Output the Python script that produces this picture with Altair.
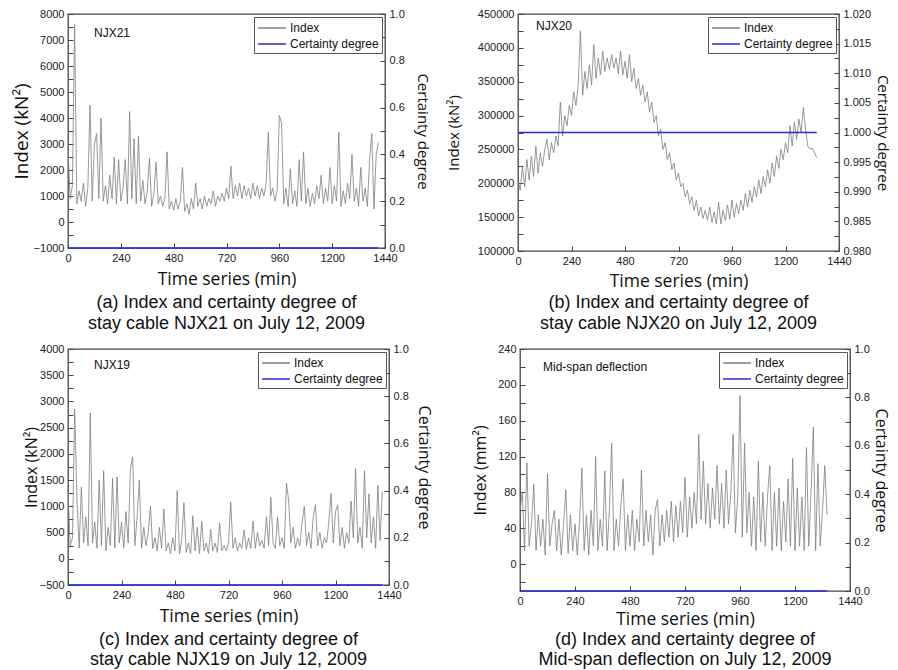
import altair as alt
import pandas as pd

# ---------------- data (10-min sampling) ----------------
STEP = 10

# (a) NJX21 index, t = 0 .. 1410
idx_a = [2800, 900, 1400, 7600, 700, 1200, 800, 1500, 600, 1300,
         4500, 800, 3000, 3400, 900, 4000, 800, 1400, 700, 1800,
         900, 2500, 700, 2400, 800, 1300, 2400, 700, 4250, 900,
         3200, 700, 3300, 800, 1600, 700, 1200, 2450, 600, 1100,
         2300, 700, 1000, 600, 900, 2700, 500, 800, 450, 900,
         500, 800, 2100, 400, 700, 300, 900, 500, 1500, 600,
         900, 500, 1000, 600, 900, 700, 1200, 600, 1000, 800,
         1100, 800, 1300, 900, 2150, 900, 1400, 1000, 1500, 900,
         1400, 1000, 1300, 900, 1500, 1000, 1400, 900, 1300, 1000,
         1500, 3450, 1000, 1300, 800, 1200, 4100, 3800, 700, 1300,
         600, 2050, 700, 1200, 600, 2400, 800, 2700, 700, 1300,
         600, 1100, 700, 1400, 900, 1800, 700, 1300, 800, 2100,
         700, 1400, 800, 3450, 600, 1200, 700, 1500, 900, 2600,
         800, 1300, 600, 2100, 800, 1300, 600, 2400, 3400, 500,
         2600, 3050]
cert_a = [0.0, 0.0]

# (b) NJX20 index, t = 0 .. 1340
idx_b = [205000, 190000, 225000, 195000, 235000, 205000, 240000, 210000, 255000, 215000,
         245000, 225000, 250000, 265000, 235000, 260000, 245000, 270000, 255000, 320000,
         270000, 300000, 285000, 315000, 300000, 335000, 315000, 345000, 425000, 330000,
         365000, 340000, 375000, 345000, 405000, 355000, 385000, 360000, 395000, 365000,
         385000, 368000, 390000, 370000, 385000, 362000, 395000, 360000, 380000, 355000,
         390000, 350000, 370000, 340000, 355000, 330000, 345000, 320000, 335000, 305000,
         320000, 290000, 300000, 270000, 280000, 250000, 260000, 235000, 245000, 220000,
         230000, 205000, 215000, 195000, 200000, 180000, 190000, 170000, 180000, 160000,
         175000, 152000, 165000, 148000, 160000, 145000, 165000, 142000, 158000, 140000,
         172000, 140000, 160000, 145000, 168000, 147000, 175000, 150000, 170000, 155000,
         175000, 160000, 185000, 165000, 190000, 172000, 195000, 180000, 205000, 185000,
         210000, 195000, 220000, 200000, 230000, 210000, 240000, 222000, 250000, 235000,
         260000, 245000, 285000, 255000, 290000, 265000, 295000, 275000, 312000, 280000,
         255000, 250000, 252000, 245000, 238000]
cert_b = [1.0, 1.0]

# (c) NJX19 index, t = 0 .. 1410
idx_c = [1280, 250, 400, 2850, 1150, 200, 1370, 300, 800, 250,
         2780, 300, 700, 200, 1500, 250, 1680, 150, 600, 250,
         1530, 200, 1560, 300, 700, 200, 900, 300, 1720, 1940,
         250, 800, 1500, 200, 600, 250, 500, 1000, 200, 400,
         150, 600, 200, 950, 150, 300, 100, 400, 150, 1300,
         100, 350, 1070, 120, 300, 100, 820, 150, 600, 100,
         720, 150, 300, 100, 560, 150, 300, 120, 680, 150,
         250, 150, 300, 1080, 200, 400, 150, 300, 200, 550,
         180, 400, 200, 720, 200, 500, 250, 350, 200, 800,
         250, 1170, 300, 200, 800, 250, 400, 200, 1440, 1100,
         300, 600, 200, 400, 250, 700, 1000, 250, 500, 200,
         800, 1030, 250, 500, 200, 400, 300, 700, 1250, 300,
         900, 1030, 250, 600, 200, 500, 300, 1100, 400, 1720,
         300, 600, 200, 1680, 400, 1240, 300, 800, 200, 1400,
         350, 1280]
cert_c = [0.0, 0.0]

# (d) Mid-span deflection index, t = 0 .. 1340
idx_d = [60, 80, 15, 113, 20, 45, 89, 15, 55, 20,
         50, 10, 101, 20, 45, 60, 15, 50, 10, 45,
         83, 12, 55, 15, 45, 10, 50, 107, 15, 55,
         10, 60, 20, 120, 15, 50, 20, 104, 15, 60,
         135, 15, 50, 20, 65, 95, 15, 55, 20, 60,
         15, 50, 25, 105, 20, 60, 25, 55, 10, 60,
         72, 20, 55, 25, 60, 30, 70, 25, 65, 30,
         70, 35, 97, 30, 75, 40, 80, 45, 145, 50,
         115, 45, 90, 40, 85, 50, 110, 45, 90, 40,
         105, 45, 80, 145, 35, 75, 188, 30, 135, 35,
         80, 20, 75, 15, 115, 25, 80, 20, 75, 110,
         15, 80, 20, 85, 15, 70, 25, 95, 20, 118,
         15, 85, 20, 75, 15, 130, 20, 80, 153, 15,
         112, 20, 60, 110, 55]
cert_d = [0.0, 0.0]

SERIES = ["Index", "Certainty degree"]
COLORS = ["#7f7f7f", "#2a2ad8"]

LABEL_FONT = "Liberation Sans"
TITLE_FONT = "Open Sans"


def every(step):
    return f"abs(datum.value / {step} - round(datum.value / {step})) < 0.001"


def tick_vals(dom, step):
    k0 = round(dom[0] / step)
    k1 = round(dom[1] / step)
    return [round(k * step, 6) for k in range(k0, k1 + 1)]


def panel(values, cert, name, ytitle, ydom, ymin, ymaj, yfmt,
          rdom, rmin, rmaj, rfmt, caption, width, height,
          ytitle_size, ytitle_pad, rtitle_size, rtitle_pad,
          xtitle_pad, cap_offset, cap_line, lab_x, lab_y):
    n = len(values)
    t = [i * STEP for i in range(n)]
    df = pd.DataFrame({"t": t, "v": values, "s": "Index"})
    dc = pd.DataFrame({"t": [0, t[-1]], "c": cert, "s": "Certainty degree"})
    dl = pd.DataFrame({"label": [name]})

    color = alt.Color(
        "s:N",
        scale=alt.Scale(domain=SERIES, range=COLORS),
        legend=alt.Legend(
            orient="top-right", offset=3, title=None,
            strokeColor="#555555", fillColor="white", padding=3,
            symbolType="M-1,0H3", symbolSize=196, symbolStrokeWidth=1.5,
            labelFont=LABEL_FONT, labelFontSize=12, labelColor="#111",
            rowPadding=2, labelOffset=17,
        ),
    )
    xaxis = alt.Axis(
        values=list(range(0, 1441, 120)),
        labelExpr=f"{every(240)} ? datum.label : ''",
        format="d", title="Time series (min)", offset=-5, domain=False,
        tickSize=5, labelPadding=4, titlePadding=xtitle_pad, grid=False,
        labelFlush=False,
    )
    x = alt.X("t:Q", scale=alt.Scale(domain=[0, 1440], nice=False), axis=xaxis)

    line = alt.Chart(df).mark_line(strokeWidth=0.8, clip=True).encode(
        x=x,
        y=alt.Y("v:Q", scale=alt.Scale(domain=ydom, nice=False, zero=False),
                axis=alt.Axis(values=tick_vals(ydom, ymin),
                              labelExpr=f"{every(ymaj)} ? datum.label : ''",
                              format=yfmt, title=ytitle, orient="left",
                              offset=-5, domain=False, tickSize=5,
                              labelPadding=4, titleFontSize=ytitle_size,
                              titlePadding=ytitle_pad, labelFlush=False,
                              grid=False)),
        color=color,
    )
    cline = alt.Chart(dc).mark_line(strokeWidth=1.5, clip=False).encode(
        x=alt.X("t:Q", scale=alt.Scale(domain=[0, 1440], nice=False)),
        y=alt.Y("c:Q", scale=alt.Scale(domain=rdom, nice=False, zero=False),
                axis=alt.Axis(values=tick_vals(rdom, rmin),
                              labelExpr=f"{every(rmaj)} ? datum.label : ''",
                              format=rfmt, title="Certainty degree",
                              orient="right", offset=-5, domain=False,
                              tickSize=5, labelPadding=4,
                              titleFontSize=rtitle_size,
                              titlePadding=rtitle_pad, labelFlush=False,
                              grid=False)),
        color=color,
    )
    txt = alt.Chart(dl).mark_text(
        align="left", baseline="middle", font=LABEL_FONT, fontSize=12,
        color="#111"
    ).encode(x=alt.value(lab_x), y=alt.value(lab_y), text="label:N")

    return alt.layer(line, cline, txt).resolve_scale(y="independent").properties(
        width=width, height=height,
        title=alt.TitleParams(
            text=caption, orient="bottom", anchor="middle",
            font=LABEL_FONT, fontSize=18, fontWeight="normal",
            color="#111", lineHeight=cap_line, offset=cap_offset,
        ),
    )


pa = panel(idx_a, cert_a, "NJX21", "Index (kN²)", [-1000, 8000], 500, 1000, "d",
           [0, 1], 0.1, 0.2, ".1f",
           ["(a) Index and certainty degree of",
            "stay cable NJX21 on July 12, 2009"], 317, 234,
           19, 2, 15, 10, 7, 6, 21, 26, 19)
pb = panel(idx_b, cert_b, "NJX20", "Index (kN²)", [100000, 450000], 25000, 50000, "d",
           [0.98, 1.02], 0.0025, 0.005, ".3f",
           ["(b) Index and certainty degree of",
            "stay cable NJX20 on July 12, 2009"], 321, 237,
           15, 16, 15, 4, 6, 4, 21, 18, 12)
pc = panel(idx_c, cert_c, "NJX19", "Index (kN²)", [-500, 4000], 250, 500, "d",
           [0, 1], 0.1, 0.2, ".1f",
           ["(c) Index and certainty degree of",
            "stay cable NJX19 on July 12, 2009"], 321, 236,
           16, 0, 16, 7, 7, 6, 20, 26, 16)
pd_ = panel(idx_d, cert_d, "Mid-span deflection", "Index (mm²)", [-30, 240], 20, 40, "d",
            [0, 1], 0.1, 0.2, ".1f",
            ["(d) Index and certainty degree of",
             "Mid-span deflection on July 12, 2009"], 330, 242,
            16, 9, 16, 3, 4, 3, 20, 23, 18)

row1 = alt.hconcat(pa, pb, spacing=15).resolve_scale(color="independent").resolve_legend(color="independent")
row2 = alt.hconcat(pc, pd_, spacing=39).resolve_scale(color="independent").resolve_legend(color="independent")

chart = alt.vconcat(row1, row2, spacing=8).resolve_scale(
    color="independent").resolve_legend(color="independent").properties(
    padding={"left": 11, "top": 7, "right": 0, "bottom": 0},
    background="white",
).configure_view(
    stroke="#444444", strokeWidth=1.3
).configure_axis(
    labelFont=LABEL_FONT, labelFontSize=11, labelColor="#222",
    titleFont=TITLE_FONT, titleFontSize=17.5, titleFontWeight="normal",
    titleColor="#111", tickColor="#444", tickWidth=1,
)

chart.save("out.html", embed_options={"renderer": "svg", "actions": False})
